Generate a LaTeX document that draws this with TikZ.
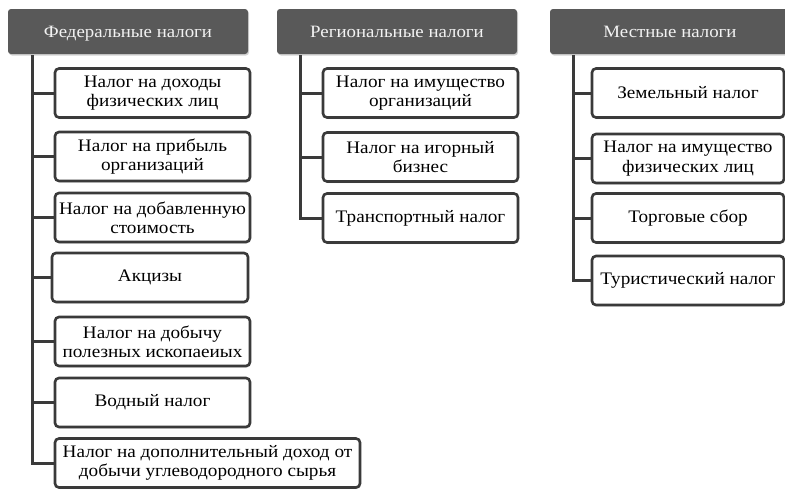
\documentclass[tikz,border=0pt]{standalone}
\usepackage{fontspec}
\setmainfont{Liberation Serif}[FakeStretch=1.09]
\usepackage{xcolor}
\definecolor{headgray}{HTML}{595959}
\definecolor{headtext}{HTML}{F2F2F2}
\definecolor{edgegray}{HTML}{3A3A3A}
\usetikzlibrary{shadows,positioning}
\tikzset{
    x=1pt, y=-1pt,
    head/.style = {rectangle, rounded corners=3pt, fill=headgray, text=headtext,
                   minimum width=240pt, minimum height=45pt, inner sep=2pt,
                   text height=12pt, text depth=0pt,
                   font=\fontsize{17.3}{19}\selectfont,
                   drop shadow={shadow xshift=1pt, shadow yshift=-1.5pt, opacity=0.35}},
    item/.style = {rectangle, rounded corners=4pt, draw=edgegray, line width=2.6pt,
                   fill=white, minimum height=49pt, inner sep=2pt, align=center,
                   font=\fontsize{17.6}{19.4}\selectfont,
                   drop shadow={shadow xshift=1pt, shadow yshift=-1.5pt, opacity=0.25}},
    tree/.style = {draw=edgegray, line width=3pt}
}

\begin{document}
\begin{tikzpicture}
    \useasboundingbox (0,0) rectangle (785,488);

    % column heads
    \node[head] (fed) at (128,31.5) {Федеральные налоги};
    \node[head] (reg) at (397,31.5) {Региональные налоги};
    \node[head] (loc) at (670,31.5) {Местные налоги};

    \coordinate (fedtop) at (32,55);
    \coordinate (regtop) at (300,55);
    \coordinate (loctop) at (573,55);

    % federal taxes
    \node[item, minimum width=195pt] (f1) at (152.5,93) {Налог на доходы\\физических лиц};
    \node[item, minimum width=195pt] (f2) at (152.5,156.5) {Налог на прибыль\\организаций};
    \node[item, minimum width=195pt] (f3) at (152.5,217.5) {Налог на добавленную\\стоимость};
    \node[item, minimum width=196pt] (f4) at (150,277.5) {Акцизы};
    \node[item, minimum width=195pt] (f5) at (152.5,341.5) {Налог на добычу\\полезных ископаеиых};
    \node[item, minimum width=195pt] (f6) at (152.5,402.5) {Водный налог};
    \node[item, minimum width=305pt] (f7) at (207.5,463) {Налог на дополнительный доход от\\добычи углеводородного сырья};

    % regional taxes
    \node[item, minimum width=195pt] (r1) at (420.5,93) {Налог на имущество\\организаций};
    \node[item, minimum width=195pt] (r2) at (420.5,157) {Налог на игорный\\бизнес};
    \node[item, minimum width=195pt] (r3) at (420.5,218) {Транспортный налог};

    % local taxes
    \node[item, minimum width=192pt] (l1) at (688,93) {Земельный налог};
    \node[item, minimum width=192pt] (l2) at (688,158.5) {Налог на имущество\\физических лиц};
    \node[item, minimum width=192pt] (l3) at (688,218) {Торговые сбор};
    \node[item, minimum width=192pt] (l4) at (688,280.5) {Туристический налог};

    % tree lines
    \foreach \n in {f1,f2,f3,f4,f5,f6,f7}
        \draw[tree] (fedtop) |- (\n.west);
    \foreach \n in {r1,r2,r3}
        \draw[tree] (regtop) |- (\n.west);
    \foreach \n in {l1,l2,l3,l4}
        \draw[tree] (loctop) |- (\n.west);
\end{tikzpicture}
\end{document}
